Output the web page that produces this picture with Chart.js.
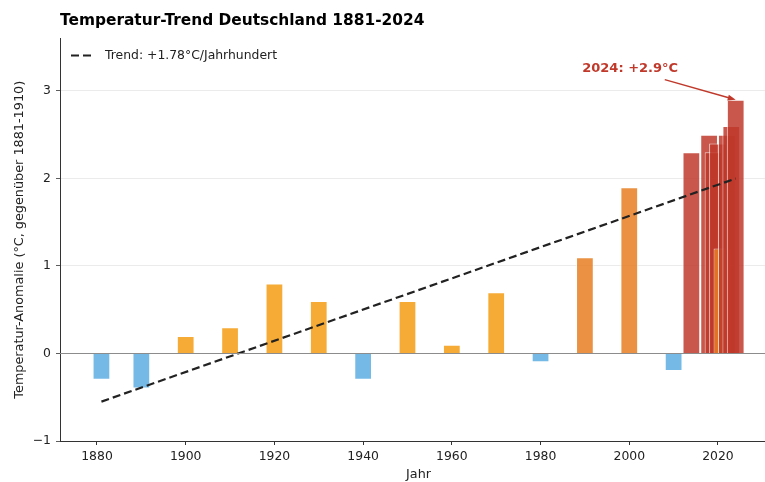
<!DOCTYPE html>
<html lang="de">
<head>
<meta charset="utf-8">
<title>Temperatur-Trend Deutschland</title>
<script src="https://cdn.jsdelivr.net/npm/chart.js"></script>
<style>
  html, body { margin: 0; padding: 0; background: #fff; }
  #wrap { width: 765px; height: 482px; position: relative; }
</style>
</head>
<body>
<div id="wrap"><canvas id="myChart"></canvas></div>
<script>
// Jahre und Temperaturanomalien (°C gegenüber 1881-1910)
var jahre = [1881, 1890, 1900, 1910, 1920, 1930, 1940, 1950, 1960, 1970, 1980, 1990, 2000, 2010,
             2014, 2018, 2019, 2020, 2021, 2022, 2023, 2024];
var anomalien = [-0.3, -0.4, 0.2, 0.3, 0.8, 0.6, -0.3, 0.6, 0.1, 0.7, -0.1, 1.1, 1.9, -0.2,
                 2.3, 2.5, 2.3, 2.4, 1.2, 2.5, 2.6, 2.9];

// lineare Trendlinie (Anfang und Ende)
var trendJahre = [1881, 2024];
var trendWerte = [-0.55, 2.0];
var trendLabel = 'Trend: +1.78°C/Jahrhundert';

// Achsenbeschriftungen
var xTicks = [1880, 1900, 1920, 1940, 1960, 1980, 2000, 2020];
var yTicks = [-1, 0, 1, 2, 3];

var FONT = "'DejaVu Sans', sans-serif";
var TREND_DASH = [8, 4];

function balkenFarbe(v) {
    if (v < 0) return 'rgba(93, 173, 226, 0.85)';
    if (v < 1) return 'rgba(243, 156, 18, 0.85)';
    if (v < 2) return 'rgba(230, 126, 34, 0.85)';
    return 'rgba(192, 57, 43, 0.85)';
}

// Nulllinie, Legende, x-Achsentitel und Pfeil zum letzten Jahr
var extrasPlugin = {
    id: 'extras',
    afterDatasetsDraw: function (chart, args, opts) {
        var x = chart.scales.x, y = chart.scales.y;
        var area = chart.chartArea;
        var c = chart.ctx;

        // Nulllinie über den Balken
        var y0 = y.getPixelForValue(0);
        c.save();
        c.strokeStyle = '#8c8c8c';
        c.lineWidth = 1.2;
        c.beginPath();
        c.moveTo(area.left, y0);
        c.lineTo(area.right, y0);
        c.stroke();
        c.restore();

        // Legende oben links
        var lx = area.left + 11, ly = area.top + 17;
        c.save();
        c.strokeStyle = '#222';
        c.lineWidth = 2.2;
        c.setLineDash(TREND_DASH);
        c.beginPath();
        c.moveTo(lx, ly);
        c.lineTo(lx + 21, ly);
        c.stroke();
        c.setLineDash([]);
        c.fillStyle = '#222';
        c.font = '12.4px ' + FONT;
        c.textAlign = 'left';
        c.textBaseline = 'middle';
        c.fillText(trendLabel, lx + 34, ly);
        c.restore();

        // Achsentitel "Jahr", mittig unter der vollen Achse
        c.save();
        c.fillStyle = '#222';
        c.font = '12.8px ' + FONT;
        c.textAlign = 'center';
        c.textBaseline = 'middle';
        c.fillText('Jahr', x.getPixelForValue(opts.xTitleAt), chart.height - 7);
        c.restore();

        // Beschriftung mit Pfeil
        var n = jahre.length - 1;
        var tx = x.getPixelForValue(opts.textAt[0]);
        var ty = y.getPixelForValue(opts.textAt[1]);
        var sx = x.getPixelForValue(opts.arrowFrom[0]);
        var sy = y.getPixelForValue(opts.arrowFrom[1]);
        var ex = x.getPixelForValue(jahre[n]);
        var ey = y.getPixelForValue(anomalien[n]);
        c.save();
        c.fillStyle = opts.color;
        c.strokeStyle = opts.color;
        c.font = 'bold 13px ' + FONT;
        c.textAlign = 'center';
        c.textBaseline = 'middle';
        c.fillText(jahre[n] + ': +' + anomalien[n].toFixed(1) + '°C', tx, ty);

        var ang = Math.atan2(ey - sy, ex - sx);
        var head = 8;
        c.lineWidth = 1.5;
        c.beginPath();
        c.moveTo(sx, sy);
        c.lineTo(ex - head * 0.8 * Math.cos(ang), ey - head * 0.8 * Math.sin(ang));
        c.stroke();
        c.beginPath();
        c.moveTo(ex, ey);
        c.lineTo(ex - head * Math.cos(ang) + 3 * Math.sin(ang), ey - head * Math.sin(ang) - 3 * Math.cos(ang));
        c.lineTo(ex - head * Math.cos(ang) - 3 * Math.sin(ang), ey - head * Math.sin(ang) + 3 * Math.cos(ang));
        c.closePath();
        c.fill();
        c.restore();
    }
};

var ctx = document.getElementById('myChart').getContext('2d');

var myChart = new Chart(ctx, {
    type: 'bar',
    data: {
        datasets: [
            {
                type: 'line',
                label: trendLabel,
                data: trendJahre.map(function (j, i) { return { x: j, y: trendWerte[i] }; }),
                borderColor: '#222222',
                borderWidth: 2.2,
                borderDash: TREND_DASH,
                pointRadius: 0,
                fill: false,
                order: 0
            },
            {
                label: 'Anomalie',
                data: jahre.map(function (j, i) { return { x: j, y: anomalien[i] }; }),
                backgroundColor: anomalien.map(balkenFarbe),
                borderColor: 'rgba(255, 255, 255, 0.7)',
                borderWidth: 1,
                borderSkipped: 'start',
                categoryPercentage: 1,
                barPercentage: 4,
                order: 1
            }
        ]
    },
    options: {
        responsive: true,
        maintainAspectRatio: false,
        animation: false,
        devicePixelRatio: 1,
        layout: { padding: 0 },
        scales: {
            x: {
                type: 'linear',
                min: 1871.66,
                max: 2030.6,
                offset: false,
                afterBuildTicks: function (scale) {
                    scale.ticks = xTicks.map(function (v) { return { value: v }; });
                },
                afterFit: function (scale) { scale.height = 41; },
                ticks: {
                    color: '#222',
                    font: { family: FONT, size: 12.4 },
                    padding: 4,
                    maxRotation: 0,
                    callback: function (v) { return String(v); }
                },
                grid: {
                    offset: false,
                    drawOnChartArea: false,
                    tickLength: 4,
                    tickColor: '#333'
                },
                border: { color: '#333', width: 1 },
                title: { display: false }
            },
            y: {
                min: -1,
                max: 3.6,
                afterBuildTicks: function (scale) {
                    scale.ticks = yTicks.map(function (v) { return { value: v }; });
                },
                afterFit: function (scale) { scale.width = 60; },
                ticks: {
                    color: '#222',
                    font: { family: FONT, size: 12.4 },
                    padding: 5,
                    callback: function (v) { return v < 0 ? '\u2212' + Math.abs(v) : String(v); }
                },
                grid: {
                    color: function (c) { return c.tick && c.tick.value === 0 ? 'rgba(0,0,0,0)' : '#e6e6e6'; },
                    lineWidth: 0.8,
                    tickLength: 4,
                    tickColor: '#333'
                },
                border: { color: '#333', width: 1 },
                title: {
                    display: true,
                    text: 'Temperatur-Anomalie (°C, gegenüber 1881-1910)',
                    color: '#222',
                    font: { family: FONT, size: 12.8 },
                    padding: { top: 12, bottom: 4 }
                }
            }
        },
        plugins: {
            title: {
                display: true,
                text: 'Temperatur-Trend Deutschland 1881-2024',
                align: 'start',
                fullSize: false,
                color: '#000',
                font: { family: FONT, size: 15.4, weight: 'bold' },
                padding: { top: 12, bottom: 8 }
            },
            legend: { display: false },
            tooltip: { enabled: false },
            extras: {
                color: '#C0392B',
                textAt: [2000.2, 3.25],
                arrowFrom: [2008, 3.13],
                xTitleAt: 1952.5
            }
        }
    },
    plugins: [extrasPlugin]
});
</script>
</body>
</html>
